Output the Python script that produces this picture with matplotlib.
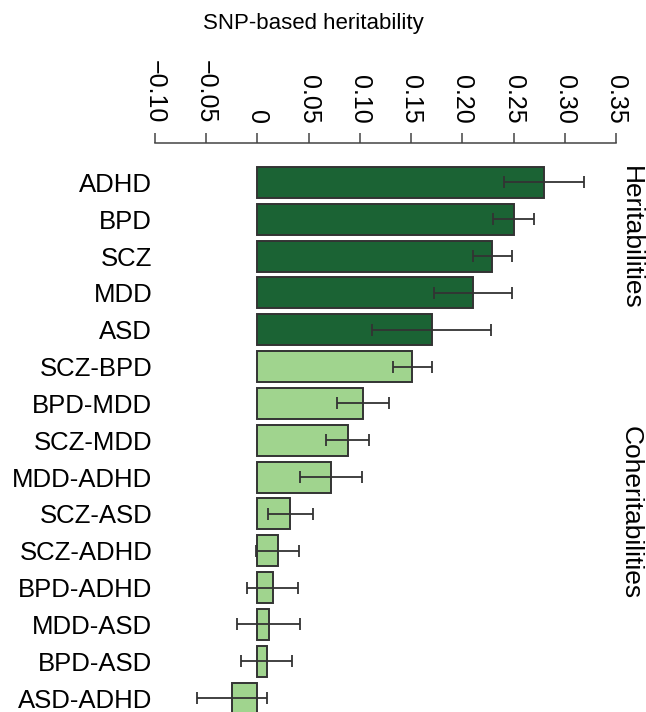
import matplotlib.pyplot as plt
import numpy as np

WIDTH_PX = 646
HEIGHT_PX = 712
DPI = 100

plt.rcParams["font.family"] = ["Liberation Sans", "DejaVu Sans"]

# Data.
heritability_labels = ["ADHD", "BPD", "SCZ", "MDD", "ASD"]
heritability_values = [0.280, 0.250, 0.229, 0.210, 0.170]
heritability_errors = [0.039, 0.020, 0.019, 0.038, 0.058]

coheritability_labels = [
    "SCZ-BPD", "BPD-MDD", "SCZ-MDD", "MDD-ADHD", "SCZ-ASD",
    "SCZ-ADHD", "BPD-ADHD", "MDD-ASD", "BPD-ASD", "ASD-ADHD",
]
coheritability_values = [0.151, 0.103, 0.088, 0.072, 0.032,
                         0.020, 0.015, 0.011, 0.009, -0.025]
coheritability_errors = [0.019, 0.025, 0.021, 0.030, 0.022,
                         0.021, 0.025, 0.031, 0.025, 0.034]

x_ticks = [-0.10, -0.05, 0, 0.05, 0.10, 0.15, 0.20, 0.25, 0.30, 0.35]
x_tick_labels = ["\u22120.10", "\u22120.05", "0", "0.05", "0.10",
                 "0.15", "0.20", "0.25", "0.30", "0.35"]

DARK_GREEN = "#1b6334"
LIGHT_GREEN = "#a0d48e"
EDGE = "#333333"


def main():
    fig = plt.figure(figsize=(WIDTH_PX / DPI, HEIGHT_PX / DPI), dpi=DPI)
    fig.patch.set_facecolor("white")

    # Axes spans -0.10..0.35 horizontally; top spine sits at y=143px.
    left = 155 / WIDTH_PX
    right = 616 / WIDTH_PX
    top = 1 - 143 / HEIGHT_PX
    ax = fig.add_axes([left, 0.0, right - left, top])

    labels = heritability_labels + coheritability_labels
    values = heritability_values + coheritability_values
    errors = heritability_errors + coheritability_errors
    colors = ([DARK_GREEN] * len(heritability_labels)
              + [LIGHT_GREEN] * len(coheritability_labels))
    pos = np.arange(len(labels))

    ax.barh(pos, values, height=0.84, color=colors, edgecolor=EDGE,
            linewidth=1.4, zorder=2)
    ax.errorbar(values, pos, xerr=errors, fmt="none", ecolor=EDGE,
                elinewidth=1.3, capsize=4.5, capthick=1.3, zorder=3)

    ax.set_xlim(-0.10, 0.35)
    ax.set_ylim(14.38, -1.07)

    ax.xaxis.tick_top()
    ax.set_xticks(x_ticks)
    ax.set_xticklabels(x_tick_labels, rotation=-90, fontsize=18)
    ax.tick_params(axis="x", direction="out", length=7, width=1.1,
                   color="#444444", pad=7)

    ax.set_yticks(pos)
    ax.set_yticklabels(labels, fontsize=18.5)
    ax.tick_params(axis="y", length=0, pad=2)

    for side in ["left", "right", "bottom"]:
        ax.spines[side].set_visible(False)
    ax.spines["top"].set_color("#444444")
    ax.spines["top"].set_linewidth(1.1)

    fig.text(313.5 / WIDTH_PX, 1 - 23 / HEIGHT_PX, "SNP-based heritability",
             ha="center", va="center", fontsize=16)
    fig.text(631 / WIDTH_PX, 1 - 237.5 / HEIGHT_PX, "Heritabilities",
             ha="center", va="center", rotation=-90, fontsize=19)
    fig.text(631 / WIDTH_PX, 1 - 513 / HEIGHT_PX, "Coheritabilities",
             ha="center", va="center", rotation=-90, fontsize=19)

    fig.savefig("out.png", dpi=DPI)
    plt.close(fig)


if __name__ == "__main__":
    main()
